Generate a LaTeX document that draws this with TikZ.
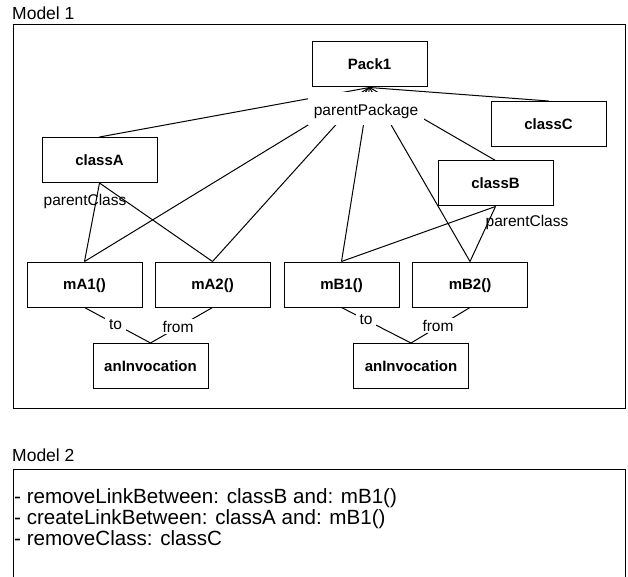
\documentclass[tikz,border=0pt]{standalone}
\usepackage{fontspec}
\setmainfont{Liberation Sans}
\begin{document}
\begin{tikzpicture}[x=1pt,y=-1pt,
  box/.style={draw, line width=1pt, minimum width=115pt, minimum height=45pt, inner sep=0pt,
    font=\fontsize{15}{18}\selectfont\bfseries, text height=10.7pt, text depth=0pt},
  lbl/.style={inner sep=0pt, font=\fontsize{15.5}{18}\selectfont, anchor=base},
  elbl/.style={lbl, fill=white, inner xsep=4pt, inner ysep=2pt},
  link/.style={line width=1pt},
  frame/.style={line width=1pt},
  title/.style={anchor=base west, inner sep=0pt, font=\fontsize{17.5}{20}\selectfont},
  item/.style={anchor=base west, inner sep=0pt, font=\fontsize{20.6}{24}\selectfont},
]
\useasboundingbox (0,0) rectangle (628,577);

% frames and titles
\node[title] (m1) at (12,20) {Model 1};
\draw[frame] (13,25) rectangle (625,408);
\node[title] (m2) at (12,461) {Model 2};
\draw[frame] (13,578) -- (13,469) -- (625,469) -- (625,578);

% role labels that lie under the links
\node[lbl] (pcA) at (85,205) {parentClass};
\node[lbl] (pcB) at (527,226) {parentClass};

% nodes
\node[box] (pack) at (369.5,64.5) {Pack1};
\node[box] (classA) at (99.5,160) {classA};
\node[box] (classC) at (548.5,124) {classC};
\node[box] (classB) at (495.5,183.5) {classB};
\node[box] (mA1) at (84.5,284.5) {mA1()};
\node[box] (mA2) at (212.5,284.5) {mA2()};
\node[box] (mB1) at (341.5,284.5) {mB1()};
\node[box] (mB2) at (470,284.5) {mB2()};
\node[box] (inv1) at (150.5,366) {anInvocation};
\node[box] (inv2) at (411,366) {anInvocation};

% parentPackage links
\foreach \t in {classA,mA1,mA2,mB1,mB2,classB,classC}
  \draw[link] (pack.south) -- (\t.north);
% parentClass links
\draw[link] (classA.south) -- (mA1.north);
\draw[link] (classA.south) -- (mA2.north);
\draw[link] (classB.south) -- (mB1.north);
\draw[link] (classB.south) -- (mB2.north);
% invocation links
\draw[link] (mA1.south) -- (inv1.north);
\draw[link] (mA2.south) -- (inv1.north);
\draw[link] (mB1.south) -- (inv2.north);
\draw[link] (mB2.south) -- (inv2.north);

% labels with white background
\node[lbl, fill=white, inner xsep=6pt, inner ysep=0pt, text height=24pt, text depth=9pt] (pp) at (366,116) {parentPackage};
\node[elbl] (toA) at (115.5,329) {to};
\node[elbl] (fromA) at (178,332) {from};
\node[elbl] (toB) at (366,324) {to};
\node[elbl] (fromB) at (438,331) {from};

% Model 2 list
\node[item] (l1) at (14,503) {- removeLinkBetween: classB and: mB1()};
\node[item] (l2) at (14,524) {- createLinkBetween: classA and: mB1()};
\node[item] (l3) at (14,545) {- removeClass: classC};
\end{tikzpicture}
\end{document}
